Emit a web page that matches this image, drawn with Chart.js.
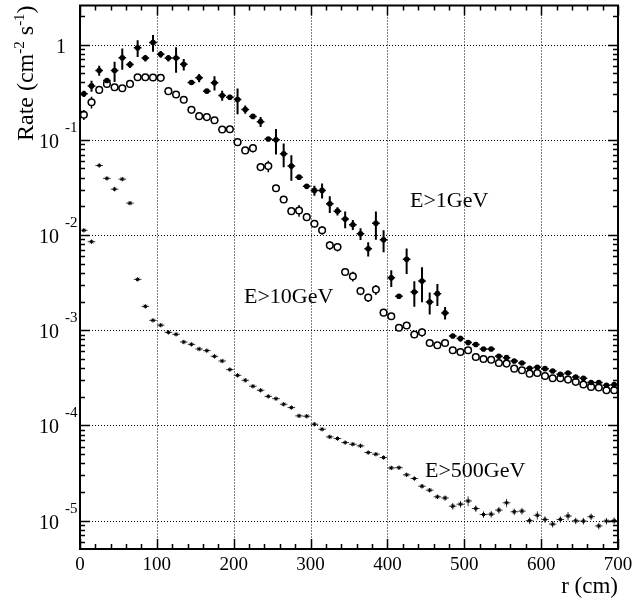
<!DOCTYPE html>
<html>
<head>
<meta charset="utf-8">
<script src="https://cdn.jsdelivr.net/npm/chart.js@4.4.1/dist/chart.umd.min.js"></script>
<style>
  html, body { margin: 0; padding: 0; background: #fff; }
  canvas { display: block; }
</style>
</head>
<body>
<canvas id="rateChart" width="632" height="598"></canvas>
<script>
// Bin centres (cm)
const R_BINS = [5, 15, 25, 35, 45, 55, 65, 75, 85, 95, 105, 115, 125, 135, 145, 155, 165, 175, 185, 195,
    205, 215, 225, 235, 245, 255, 265, 275, 285, 295, 305, 315, 325, 335, 345, 355, 365, 375, 385, 395,
    405, 415, 425, 435, 445, 455, 465, 475, 485, 495, 505, 515, 525, 535, 545, 555, 565, 575, 585, 595,
    605, 615, 625, 635, 645, 655, 665, 675, 685, 695];

// E>1GeV (filled)
const RATE_1GEV = [0.304, 0.368, 0.533, 0.419, 0.533, 0.725, 0.617, 0.923, 0.72, 1.05,
    0.79, 0.72, 0.72, 0.62, 0.40, 0.447, 0.324, 0.396, 0.292, 0.28,
    0.265, 0.208, 0.176, 0.155, 0.102, 0.100, 0.0713, 0.0529, 0.0405, 0.0324,
    0.0294, 0.0294, 0.0213, 0.0178, 0.0147, 0.0128, 0.0103, 0.00718, 0.0133, 0.0089,
    0.00356, 0.00227, 0.00555, 0.00252, 0.00328, 0.00198, 0.00242, 0.00152, 0.00087, 0.000816,
    0.000741, 0.000707, 0.000635, 0.000635, 0.000532, 0.000515, 0.000475, 0.000453, 0.000398, 0.000408,
    0.000395, 0.000373, 0.000344, 0.000356, 0.000323, 0.000313, 0.000282, 0.000282, 0.000264, 0.000268];
const ERR_1GEV = [0.075, 0.13, 0.12, 0.06, 0.24, 0.25, 0.08, 0.2, 0.08, 0.2,
    0.08, 0.08, 0.3, 0.14, 0.05, 0.1, 0.05, 0.17, 0.12, 0.06,
    0.3, 0.1, 0.05, 0.12, 0.05, 0.3, 0.28, 0.3, 0.05, 0.06,
    0.12, 0.18, 0.2, 0.1, 0.2, 0.12, 0.14, 0.17, 0.33, 0.26,
    0.2, 0.06, 0.3, 0.3, 0.4, 0.26, 0.26, 0.15, 0.05, 0.07,
    0.05, 0.05, 0.05, 0.05, 0.05, 0.05, 0.05, 0.05, 0.05, 0.05,
    0.05, 0.05, 0.05, 0.05, 0.05, 0.05, 0.05, 0.05, 0.05, 0.05];

// E>10GeV (open)
const RATE_10GEV = [0.183, 0.248, 0.334, 0.386, 0.356, 0.348, 0.386, 0.454, 0.454, 0.45,
    0.447, 0.324, 0.299, 0.263, 0.206, 0.177, 0.173, 0.16, 0.128, 0.129,
    0.0944, 0.0773, 0.0816, 0.0516, 0.0529, 0.031, 0.0236, 0.0178, 0.0181, 0.0154,
    0.0131, 0.0112, 0.00778, 0.00747, 0.00408, 0.00368, 0.00258, 0.0022, 0.00267, 0.00153,
    0.0014, 0.00106, 0.00112, 0.0009, 0.00095, 0.000734, 0.000695, 0.000734, 0.000615, 0.00059,
    0.000615, 0.000523, 0.000499, 0.00049, 0.000453, 0.000446, 0.000395, 0.00038, 0.00035, 0.000356,
    0.000331, 0.000313, 0.000313, 0.000303, 0.000287, 0.000269, 0.000254, 0.00025, 0.000234, 0.000234];
const ERR_10GEV = [0.12, 0.14, 0.05, 0.04, 0.04, 0.04, 0.04, 0.04, 0.04, 0.04,
    0.04, 0.04, 0.04, 0.04, 0.04, 0.04, 0.04, 0.04, 0.04, 0.04,
    0.04, 0.04, 0.1, 0.04, 0.14, 0.04, 0.04, 0.04, 0.14, 0.04,
    0.08, 0.1, 0.1, 0.1, 0.04, 0.12, 0.1, 0.1, 0.12, 0.04,
    0.04, 0.04, 0.08, 0.04, 0.1, 0.04, 0.04, 0.04, 0.04, 0.04,
    0.04, 0.04, 0.04, 0.04, 0.04, 0.04, 0.04, 0.04, 0.04, 0.04,
    0.04, 0.04, 0.04, 0.04, 0.04, 0.04, 0.04, 0.04, 0.04, 0.04];

// E>500GeV (stars)
const RATE_500GEV = [0.0112, 0.0085, 0.0537, 0.0393, 0.0303, 0.0386, 0.0216, 0.00342, 0.00178, 0.00127,
    0.00113, 0.00095, 0.000906, 0.000752, 0.000711, 0.000635, 0.00061, 0.000532, 0.000475, 0.000386,
    0.000336, 0.000298, 0.000258, 0.000234, 0.000202, 0.000191, 0.000167, 0.000154, 0.000126, 0.000125,
    0.000103, 9.12e-5, 7.58e-5, 7.28e-5, 6.61e-5, 6.35e-5, 6.1e-5, 5.19e-5, 4.99e-5, 4.6e-5,
    3.58e-5, 3.6e-5, 3.03e-5, 2.77e-5, 2.3e-5, 2.09e-5, 1.78e-5, 1.73e-5, 1.42e-5, 1.49e-5,
    1.61e-5, 1.34e-5, 1.16e-5, 1.17e-5, 1.29e-5, 1.54e-5, 1.24e-5, 1.26e-5, 1.0e-5, 1.14e-5,
    1.03e-5, 9.2e-6, 1.03e-5, 1.12e-5, 9.96e-6, 9.9e-6, 1.1e-5, 8.8e-6, 9.9e-6, 1.0e-5];
const ERR_500GEV = [0.03, 0.03, 0.03, 0.03, 0.03, 0.03, 0.03, 0.03, 0.03, 0.03,
    0.03, 0.03, 0.03, 0.03, 0.03, 0.03, 0.03, 0.03, 0.03, 0.03,
    0.03, 0.03, 0.03, 0.03, 0.03, 0.03, 0.03, 0.03, 0.03, 0.03,
    0.03, 0.03, 0.03, 0.03, 0.03, 0.03, 0.03, 0.03, 0.03, 0.03,
    0.04, 0.04, 0.04, 0.04, 0.05, 0.05, 0.05, 0.06, 0.08, 0.08,
    0.12, 0.08, 0.08, 0.08, 0.08, 0.1, 0.08, 0.08, 0.08, 0.1,
    0.08, 0.08, 0.08, 0.1, 0.08, 0.08, 0.08, 0.08, 0.08, 0.08];

const BIN_HALF = 5;
const X_TICKS = [0, 100, 200, 300, 400, 500, 600, 700];
const Y_DECADES = [-5, -4, -3, -2, -1, 0];
const SERIES_LABELS = ["E>1GeV", "E>10GeV", "E>500GeV"];

const ERRORS = [ERR_1GEV, ERR_10GEV, ERR_500GEV];
const SERIF = '"Liberation Serif", "DejaVu Serif", serif';

function toPoints(vals) {
    return R_BINS.map((r, i) => ({ x: r, y: vals[i] }));
}

// grid + error bars under the markers
const rootUnder = {
    id: 'rootUnder',
    beforeDatasetsDraw(chart) {
        const ctx = chart.ctx;
        const a = chart.chartArea;
        const xs = chart.scales.x, ys = chart.scales.y;
        ctx.save();
        ctx.strokeStyle = '#000';
        ctx.lineWidth = 1;
        ctx.setLineDash([1, 2]);
        X_TICKS.slice(1, -1).forEach(v => {
            const px = Math.round(xs.getPixelForValue(v)) + 0.5;
            ctx.beginPath(); ctx.moveTo(px, a.top); ctx.lineTo(px, a.bottom); ctx.stroke();
        });
        Y_DECADES.forEach(d => {
            const py = Math.round(ys.getPixelForValue(Math.pow(10, d))) + 0.5;
            ctx.beginPath(); ctx.moveTo(a.left, py); ctx.lineTo(a.right, py); ctx.stroke();
        });
        ctx.setLineDash([]);

        ctx.beginPath();
        ctx.rect(a.left, a.top, a.right - a.left, a.bottom - a.top);
        ctx.clip();
        const widths = [[1.5, 2], [1.2, 1.5], [1, 1]];
        const colors = ['#000', '#000', '#444'];
        chart.data.datasets.forEach((ds, d) => {
            const errs = ERRORS[d];
            ctx.strokeStyle = colors[d];
            ds.data.forEach((p, i) => {
                const px = xs.getPixelForValue(p.x);
                const py = ys.getPixelForValue(p.y);
                ctx.lineWidth = widths[d][0];
                ctx.beginPath();
                ctx.moveTo(xs.getPixelForValue(p.x - BIN_HALF), py);
                ctx.lineTo(xs.getPixelForValue(p.x + BIN_HALF), py);
                ctx.stroke();
                ctx.lineWidth = widths[d][1];
                ctx.beginPath();
                ctx.moveTo(px, ys.getPixelForValue(p.y * (1 + errs[i])));
                ctx.lineTo(px, ys.getPixelForValue(p.y * (1 - errs[i])));
                ctx.stroke();
            });
        });
        ctx.restore();
    }
};

// frame, ticks, labels and titles on top
const rootFrame = {
    id: 'rootFrame',
    afterDraw(chart) {
        const ctx = chart.ctx;
        const a = chart.chartArea;
        const xs = chart.scales.x, ys = chart.scales.y;
        ctx.save();
        ctx.strokeStyle = '#000';
        ctx.fillStyle = '#000';
        ctx.lineWidth = 1.5;

        // x ticks, every 20 cm minor, every 100 major
        for (let v = 0; v <= 700; v += 20) {
            const px = Math.round(xs.getPixelForValue(v)) + 0.5;
            const len = v % 100 === 0 ? 10 : 5;
            ctx.beginPath();
            ctx.moveTo(px, a.bottom); ctx.lineTo(px, a.bottom - len);
            ctx.moveTo(px, a.top); ctx.lineTo(px, a.top + len);
            ctx.stroke();
        }
        // y ticks on log scale
        for (let d = -6; d <= 0; d++) {
            for (let k = 1; k <= 9; k++) {
                const v = k * Math.pow(10, d);
                if (v < ys.min || v > ys.max) continue;
                const py = Math.round(ys.getPixelForValue(v)) + 0.5;
                const len = k === 1 ? 10 : 5;
                ctx.beginPath();
                ctx.moveTo(a.left, py); ctx.lineTo(a.left + len, py);
                ctx.moveTo(a.right, py); ctx.lineTo(a.right - len, py);
                ctx.stroke();
            }
        }
        ctx.lineWidth = 2;
        ctx.strokeRect(a.left, a.top, a.right - a.left, a.bottom - a.top);

        // x tick labels
        ctx.font = '19px ' + SERIF;
        ctx.textAlign = 'center';
        ctx.textBaseline = 'alphabetic';
        X_TICKS.forEach(v => ctx.fillText(String(v), xs.getPixelForValue(v), a.bottom + 21));

        // y tick labels as 10^n
        Y_DECADES.forEach(d => {
            const py = ys.getPixelForValue(Math.pow(10, d));
            if (d === 0) {
                ctx.font = '20px ' + SERIF;
                ctx.textAlign = 'right';
                ctx.fillText('1', 66, py + 8);
                return;
            }
            ctx.font = '20px ' + SERIF;
            ctx.textAlign = 'right';
            ctx.fillText('10', 59, py + 8);
            ctx.font = '15px ' + SERIF;
            ctx.textAlign = 'left';
            ctx.fillText(String(d), 65, py - 8);
        });

        // axis titles
        ctx.font = '23px ' + SERIF;
        ctx.textAlign = 'right';
        ctx.fillText('r (cm)', a.right, 593);

        ctx.save();
        ctx.translate(33, 141);
        ctx.rotate(-Math.PI / 2);
        ctx.textAlign = 'left';
        const parts = [['Rate (cm', 24, 0], ['-2', 15, -9], [' s', 24, 0], ['-1', 15, -9], [')', 24, 0]];
        let cx = 0;
        parts.forEach(([t, size, dy]) => {
            ctx.font = size + 'px ' + SERIF;
            ctx.fillText(t, cx, dy);
            cx += ctx.measureText(t).width;
        });
        ctx.restore();

        // series labels inside the frame
        ctx.font = '22px ' + SERIF;
        ctx.textAlign = 'left';
        ctx.fillText(SERIES_LABELS[0], 410, 207);
        ctx.fillText(SERIES_LABELS[1], 244, 303);
        ctx.fillText(SERIES_LABELS[2], 425, 477);
        ctx.restore();
    }
};

new Chart(document.getElementById('rateChart'), {
    type: 'scatter',
    data: {
        datasets: [
            {
                label: SERIES_LABELS[0],
                data: toPoints(RATE_1GEV),
                pointStyle: 'circle',
                pointRadius: 2.8,
                backgroundColor: '#000',
                borderColor: '#000',
                borderWidth: 0
            },
            {
                label: SERIES_LABELS[1],
                data: toPoints(RATE_10GEV),
                pointStyle: 'circle',
                pointRadius: 3.3,
                backgroundColor: '#fff',
                borderColor: '#000',
                borderWidth: 1.5
            },
            {
                label: SERIES_LABELS[2],
                data: toPoints(RATE_500GEV),
                pointStyle: 'star',
                pointRadius: 2.2,
                backgroundColor: '#000',
                borderColor: '#000',
                borderWidth: 1
            }
        ]
    },
    options: {
        responsive: false,
        animation: false,
        devicePixelRatio: 1,
        layout: { padding: { left: 80, right: 14, top: 5, bottom: 49 } },
        scales: {
            x: { type: 'linear', min: 0, max: 700, display: false },
            y: { type: 'logarithmic', min: 5.04e-6, max: 2.57, display: false }
        },
        plugins: {
            legend: { display: false },
            tooltip: { enabled: false }
        }
    },
    plugins: [rootUnder, rootFrame]
});
</script>
</body>
</html>
